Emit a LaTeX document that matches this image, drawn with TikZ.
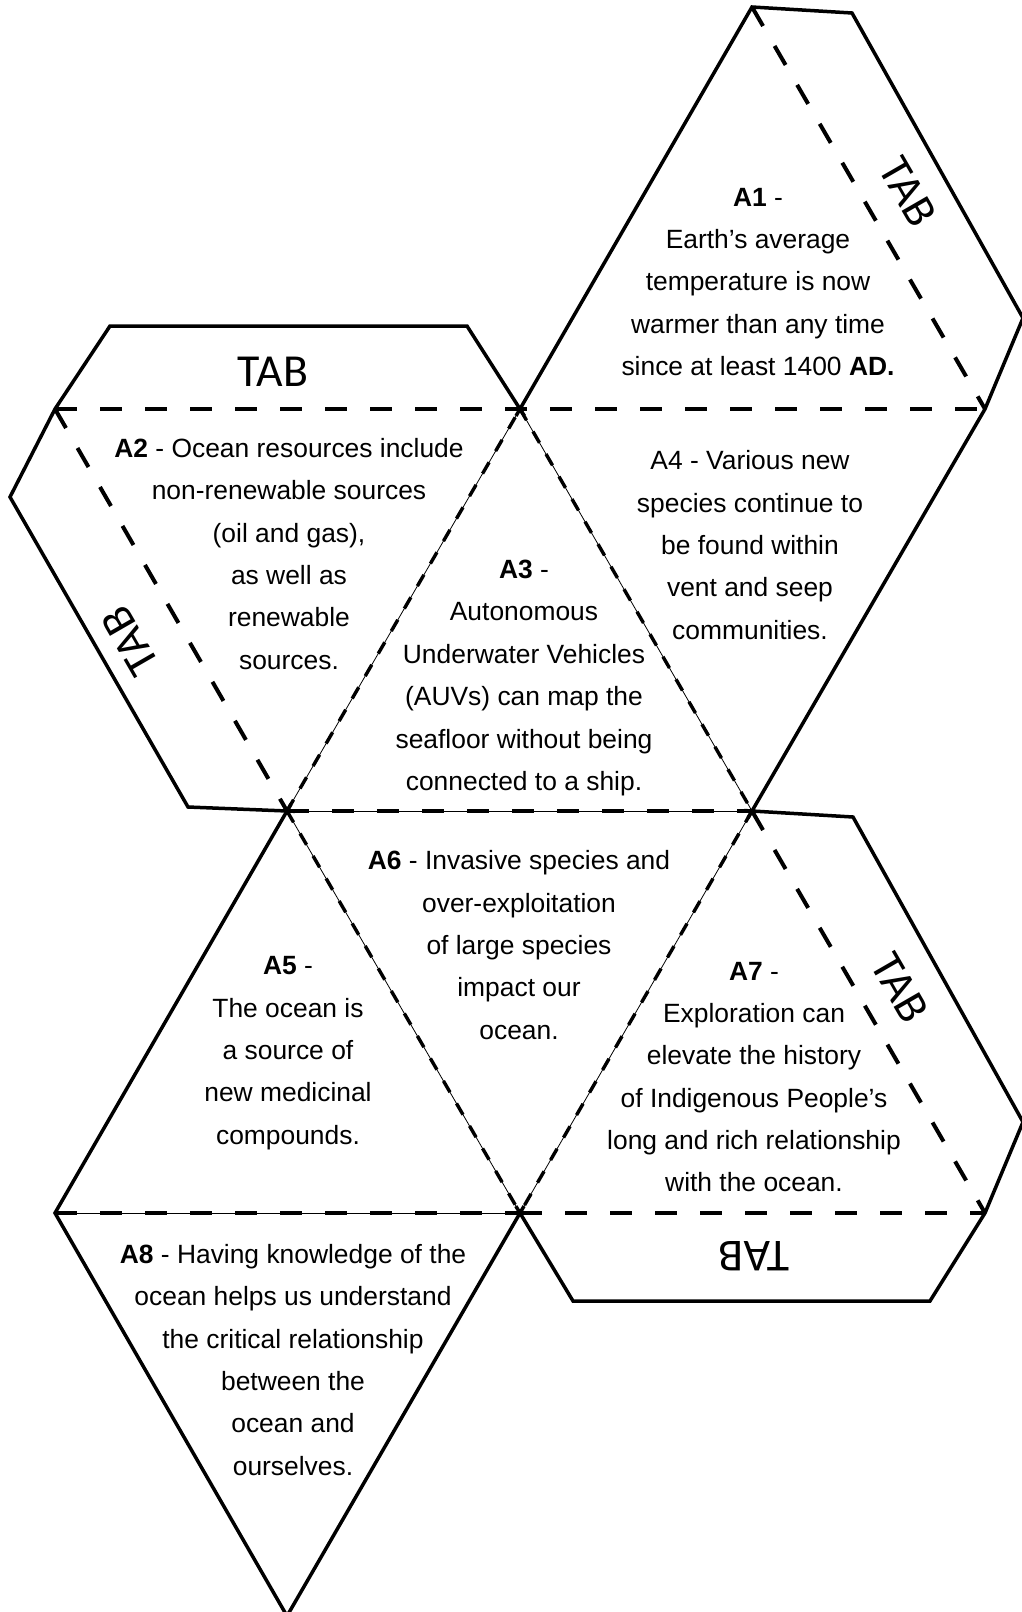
\documentclass[tikz,border=0pt]{standalone}
\usepackage{fontspec}
\setmainfont{Liberation Sans}
\newfontfamily\tabfont{Carlito}
\usepackage{tikz}
\tikzstyle{cut} = [line width=3.5bp, line join=miter, shorten <=-8bp, shorten >=-8bp]
\tikzstyle{tabfold} = [line width=4bp, dash pattern=on 22bp off 23bp]
\tikzstyle{facefold} = [line width=0.8bp, postaction={draw, line width=3.4bp,
    dash pattern=on 13bp off 13bp}]
\tikzstyle{facefoldlong} = [line width=0.8bp, postaction={draw, line width=3.6bp,
    dash pattern=on 22bp off 23bp}]
\tikzstyle{face} = [align=center, inner sep=0pt,
    font=\fontsize{26.5}{42.5}\selectfont]
\tikzstyle{tab} = [inner sep=0pt, font=\tabfont\fontsize{46}{46}\selectfont]

\begin{document}
\begin{tikzpicture}[x=1bp, y=-1bp]
            \useasboundingbox (0,0) rectangle (1021,1612);
            % Corners of the faces
            \coordinate (apex) at (752,7);
            \coordinate (l1) at (55,409);
            \coordinate (m1) at (520,409);
            \coordinate (r1) at (985,409);
            \coordinate (l2) at (287,811);
            \coordinate (r2) at (752,811);
            \coordinate (l3) at (55,1213);
            \coordinate (m3) at (520,1213);
            \coordinate (r3) at (985,1213);
            \coordinate (bot) at (287,1616);
            % Corners of the tabs
            \coordinate (tt1) at (110,326);
            \coordinate (tt2) at (467,326);
            \coordinate (lt1) at (10,497);
            \coordinate (lt2) at (188,807);
            \coordinate (rt1) at (852,13);
            \coordinate (rt2) at (1023,318);
            \coordinate (rt3) at (853,817);
            \coordinate (rt4) at (1023,1122);
            \coordinate (bt1) at (930,1301);
            \coordinate (bt2) at (573,1301);
            % Cut lines
            \draw[cut] (m1) -- (tt2) -- (tt1) -- (l1) -- (lt1) -- (lt2) -- (l2);
            \draw[cut] (m1) -- (apex) -- (rt1) -- (rt2) -- (r1) -- (r2);
            \draw[cut] (r2) -- (rt3) -- (rt4) -- (r3) -- (bt1) -- (bt2) -- (m3);
            \draw[cut] (m3) -- (bot) -- (l3) -- (l2);
            % Folds under the tabs
            \draw[tabfold] (l1) -- (r1);
            \draw[tabfold] (l1) -- (l2);
            \draw[tabfold] (apex) -- (r1);
            \draw[tabfold] (r2) -- (r3);
            \draw[tabfold] (m3) -- (r3);
            % Folds between the faces
            \draw[facefold] (l2) -- (m1);
            \draw[facefold] (m1) -- (r2);
            \draw[facefold] (l2) -- (m3);
            \draw[facefold] (r2) -- (m3);
            \draw[facefoldlong] (l2) -- (r2);
            \draw[facefoldlong] (l3) -- (m3);
            % Faces
            \node[face] (a1) at (758,282) {\textbf{A1} -\\Earth’s average\\temperature is now\\warmer than any time\\since at least 1400 \textbf{AD.}};
            \node[face] (a2) at (289,554) {\textbf{A2} - Ocean resources include\\non-renewable sources\\(oil and gas),\\as well as\\renewable\\sources.};
            \node[face] (a3) at (524,678) {\textbf{A3} -\\Autonomous\\Underwater Vehicles\\(AUVs) can map the\\seafloor without being\\connected to a ship.};
            \node[face] (a4) at (750,545) {A4 - Various new\\species continue to\\be found within\\vent and seep\\communities.};
            \node[face] (a5) at (288,1053) {\textbf{A5} -\\The ocean is\\a source of\\new medicinal\\compounds.};
            \node[face] (a6) at (519,945) {\textbf{A6} - Invasive species and\\over-exploitation\\of large species\\impact our\\ocean.};
            \node[face] (a7) at (754,1077) {\textbf{A7} -\\Exploration can\\elevate the history\\of Indigenous People’s\\long and rich relationship\\with the ocean.};
            \node[face] (a8) at (293,1360) {\textbf{A8} - Having knowledge of the\\ocean helps us understand\\the critical relationship\\between the\\ocean and\\ourselves.};
            % Tabs
            \node[tab] (tabtop) at (273,372) {TAB};
            \node[tab, rotate=120] (tableft) at (130,641) {TAB};
            \node[tab, rotate=-60] (tabone) at (908,192) {TAB};
            \node[tab, rotate=-60] (tabseven) at (900,988) {TAB};
            \node[tab, rotate=180] (tabbottom) at (754,1256) {TAB};
\end{tikzpicture}
\end{document}
